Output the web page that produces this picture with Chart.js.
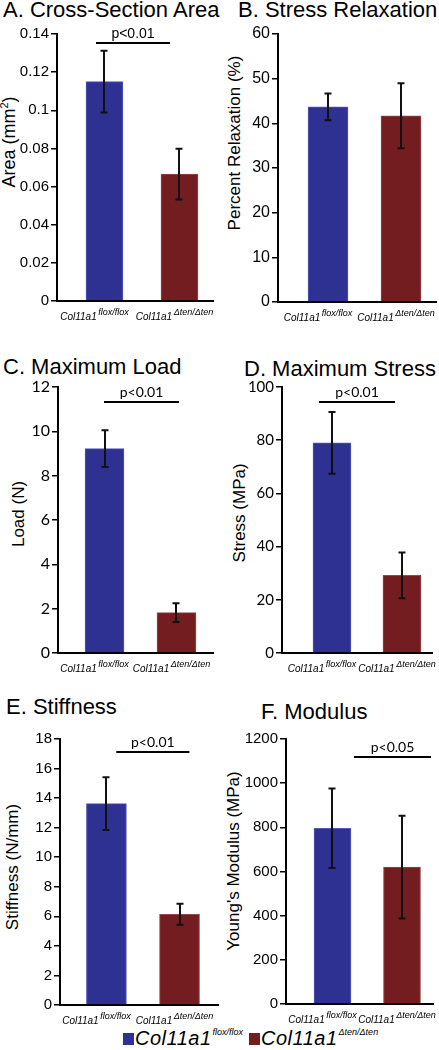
<!DOCTYPE html>
<html>
<head>
<meta charset="utf-8">
<script src="https://cdn.jsdelivr.net/npm/chart.js@4.4.0/dist/chart.umd.min.js"></script>
<style>
  html, body { margin: 0; padding: 0; background: #fff; }
  #page { position: relative; width: 439px; height: 1050px; overflow: hidden;
          font-family: "Liberation Sans", Arial, sans-serif; color: #000; }
  #page canvas { position: absolute; }
  .title { position: absolute; font-size: 22px; line-height: 1; white-space: nowrap; }
  .ytitle { position: absolute; font-size: 17px; line-height: 1; white-space: nowrap;
            transform: translate(-50%, -50%) rotate(-90deg); }
  .ytitle sup { font-size: 11px; line-height: 0; vertical-align: 7px; }
  .leg { position: absolute; line-height: 1; white-space: nowrap; font-style: italic; }
  .leg .sw { position: absolute; width: 11px; height: 12px; }
  .leg .main { font-size: 20px; letter-spacing: 0.5px; }
  .leg .sup { font-size: 9px; position: relative; top: -10px; margin-left: 1px; }
</style>
</head>
<body>
<div id="page">
  <div class="title" style="left:3px; top:-0.6px">A. Cross-Section Area</div>
  <div class="title" style="left:238px; top:-0.6px">B. Stress Relaxation</div>
  <div class="title" style="left:3px; top:356.4px">C. Maximum Load</div>
  <div class="title" style="left:244px; top:358.4px">D. Maximum Stress</div>
  <div class="title" style="left:6px; top:696.4px">E. Stiffness</div>
  <div class="title" style="left:261px; top:701.4px">F. Modulus</div>

  <div class="ytitle" style="left:9px; top:142px; font-size:18px">Area (mm<sup>2</sup>)</div>
  <div class="ytitle" style="left:234px; top:143px">Percent Relaxation (%)</div>
  <div class="ytitle" style="left:18px; top:514px">Load (N)</div>
  <div class="ytitle" style="left:239px; top:513px">Stress (MPa)</div>
  <div class="ytitle" style="left:12px; top:867px">Stiffness (N/mm)</div>
  <div class="ytitle" style="left:233px; top:861px">Young's Modulus (MPa)</div>

  <div class="leg" style="left:135px; top:1028px">
    <span class="sw" style="left:-12px; top:5px; background:#2e3192"></span><span class="main">Col11a1</span><span class="sup">flox/flox</span>
  </div>
  <div class="leg" style="left:261px; top:1028px">
    <span class="sw" style="left:-12px; top:5px; background:#731d20"></span><span class="main">Col11a1</span><span class="sup">Δten/Δten</span>
  </div>
</div>

<script>
// Genotypes (x categories): Col11a1 with superscript allele
const gene = 'Col11a1';
const genotypes = ['flox/flox', 'Δten/Δten'];

// A. Cross-section area (mm^2), mean and SD
const areaMean = [0.115, 0.0665];
const areaSd = [0.0162, 0.0133];
const areaTicks = [0, 0.02, 0.04, 0.06, 0.08, 0.1, 0.12, 0.14];

// B. Stress relaxation (%)
const relaxMean = [43.7, 41.7];
const relaxSd = [3.0, 7.3];
const relaxTicks = [0, 10, 20, 30, 40, 50, 60];

// C. Maximum load (N)
const loadMean = [9.22, 1.82];
const loadSd = [0.83, 0.42];
const loadTicks = [0, 2, 4, 6, 8, 10, 12];

// D. Maximum stress (MPa)
const stressMean = [79.0, 29.2];
const stressSd = [11.6, 8.6];
const stressTicks = [0, 20, 40, 60, 80, 100];

// E. Stiffness (N/mm)
const stiffMean = [13.63, 6.14];
const stiffSd = [1.78, 0.71];
const stiffTicks = [0, 2, 4, 6, 8, 10, 12, 14, 16, 18];

// F. Young's modulus (MPa)
const modMean = [796, 620];
const modSd = [180, 233];
const modTicks = [0, 200, 400, 600, 800, 1000, 1200];

// significance labels and the height (data units) of their bar
const pTexts = ['p<0.01', null, 'p<0.01', 'p<0.01', 'p<0.01', 'p<0.05'];
const pHeights = [0.1353, null, 11.32, 94.4, 17.12, 1118];

const BAR_FILL = ['#2e3192', '#731d20'];
const BAR_EDGE = ['#5559bb', '#97484b'];
const ARIAL = '"Liberation Sans", Arial, sans-serif';
const CALIBRI_LIKE = 'Lato, "Liberation Sans", sans-serif';
const LABEL_SHIFT = [-10, -5];

// per-panel placement: canvas box, plot area (page px), x range, bracket span (x units)
const panels = [
  { mean: areaMean, sd: areaSd, ticks: areaTicks, box: [0, 0, 219, 330], area: [57, 34, 213, 301],
    xRange: [-0.633, 1.447], bracket: [-0.113, 0.874], barW: 37, tickFont: ARIAL, tickSize: 15, pFont: ARIAL },
  { mean: relaxMean, sd: relaxSd, ticks: relaxTicks, box: [219, 0, 220, 330], area: [278, 34, 436, 302],
    xRange: [-0.685, 1.479], bracket: null, barW: 40, tickFont: ARIAL, tickSize: 16, pFont: ARIAL },
  { mean: loadMean, sd: loadSd, ticks: loadTicks, box: [0, 330, 219, 353], area: [58, 387, 213, 653],
    xRange: [-0.646, 1.507], bracket: [-0.007, 1.035], barW: 39, tickFont: CALIBRI_LIKE, tickSize: 16, pFont: CALIBRI_LIKE },
  { mean: stressMean, sd: stressSd, ticks: stressTicks, box: [219, 330, 220, 353], area: [282, 387, 432, 653],
    xRange: [-0.714, 1.429], bracket: [-0.185, 0.90], barW: 38, tickFont: CALIBRI_LIKE, tickSize: 15, pFont: CALIBRI_LIKE },
  { mean: stiffMean, sd: stiffSd, ticks: stiffTicks, box: [0, 683, 219, 367], area: [60, 739, 221, 1005],
    xRange: [-0.635, 1.54], bracket: [0.135, 1.135], barW: 40, tickFont: ARIAL, tickSize: 15, pFont: CALIBRI_LIKE },
  { mean: modMean, sd: modSd, ticks: modTicks, box: [219, 683, 220, 367], area: [286, 739, 433, 1004],
    xRange: [-0.669, 1.446], bracket: [0.309, 1.417], barW: 37, tickFont: ARIAL, tickSize: 15, pFont: CALIBRI_LIKE }
];

// error bars, significance bar and the italic genotype labels under each bar
function makeOverlay(p, idx) {
    return {
        id: 'overlay' + idx,
        afterDatasetsDraw(chart) {
            const { ctx, chartArea, scales: { x, y } } = chart;
            ctx.save();
            ctx.strokeStyle = '#111';
            ctx.lineWidth = 2;
            p.mean.forEach((m, i) => {
                const cx = Math.round(x.getPixelForValue(i));
                const top = y.getPixelForValue(m + p.sd[i]);
                const bot = y.getPixelForValue(m - p.sd[i]);
                ctx.beginPath();
                ctx.moveTo(cx, top); ctx.lineTo(cx, bot);
                ctx.moveTo(cx - 3.5, top); ctx.lineTo(cx + 3.5, top);
                ctx.moveTo(cx - 3.5, bot); ctx.lineTo(cx + 3.5, bot);
                ctx.stroke();
            });

            const pText = pTexts[idx];
            if (pText) {
                const yy = Math.round(y.getPixelForValue(pHeights[idx]));
                const x1 = x.getPixelForValue(p.bracket[0]);
                const x2 = x.getPixelForValue(p.bracket[1]);
                ctx.strokeStyle = '#000';
                ctx.beginPath();
                ctx.moveTo(x1, yy); ctx.lineTo(x2, yy);
                ctx.stroke();
                ctx.fillStyle = '#000';
                ctx.font = '14px ' + p.pFont;
                ctx.textAlign = 'center';
                ctx.textBaseline = 'alphabetic';
                ctx.fillText(pText, (x1 + x2) / 2, yy - 5);
            }

            ctx.fillStyle = '#000';
            ctx.textAlign = 'left';
            ctx.textBaseline = 'alphabetic';
            const base = chartArea.bottom + 19;
            genotypes.forEach((g, i) => {
                ctx.font = 'italic 10px ' + ARIAL;
                const w1 = ctx.measureText(gene).width;
                ctx.font = 'italic 9px ' + ARIAL;
                const w2 = ctx.measureText(g).width;
                const start = x.getPixelForValue(i) + LABEL_SHIFT[i] - (w1 + 1.5 + w2) / 2;
                ctx.font = 'italic 10px ' + ARIAL;
                ctx.fillText(gene, start, base);
                ctx.font = 'italic 9px ' + ARIAL;
                ctx.fillText(g, start + w1 + 1.5, base - 5);
            });
            ctx.restore();
        }
    };
}

const page = document.getElementById('page');

panels.forEach((p, idx) => {
    const [bl, bt, bw, bh] = p.box;
    const [al, at, ar, ab] = p.area;
    const canvas = document.createElement('canvas');
    canvas.width = bw;
    canvas.height = bh;
    canvas.style.left = bl + 'px';
    canvas.style.top = bt + 'px';
    canvas.style.width = bw + 'px';
    canvas.style.height = bh + 'px';
    page.appendChild(canvas);

    const yMax = p.ticks[p.ticks.length - 1];

    new Chart(canvas, {
        type: 'bar',
        data: {
            datasets: [{
                data: p.mean.map((v, i) => ({ x: i, y: v })),
                backgroundColor: BAR_FILL,
                borderColor: BAR_EDGE,
                borderWidth: 1,
                barThickness: p.barW
            }]
        },
        options: {
            responsive: false,
            animation: false,
            events: [],
            layout: { padding: { top: at - bt, left: 0, right: bl + bw - ar, bottom: bt + bh - ab } },
            plugins: { legend: { display: false }, tooltip: { enabled: false } },
            scales: {
                x: {
                    type: 'linear',
                    min: p.xRange[0],
                    max: p.xRange[1],
                    offset: false,
                    afterFit: s => { s.height = 0; },
                    grid: { display: true, drawOnChartArea: false, drawTicks: false },
                    ticks: { display: false },
                    border: { display: true, color: '#000', width: 2 }
                },
                y: {
                    min: 0,
                    max: yMax,
                    afterBuildTicks: s => { s.ticks = p.ticks.map(v => ({ value: v })); },
                    afterFit: s => { s.width = al - bl; },
                    grid: { display: true, drawOnChartArea: false, drawTicks: true, tickLength: 6, color: '#000', lineWidth: 1.5 },
                    border: { display: true, color: '#000', width: 2 },
                    ticks: { color: '#000', padding: 2, font: { family: p.tickFont, size: p.tickSize }, callback: v => String(v) }
                }
            }
        },
        plugins: [makeOverlay(p, idx)]
    });
});
</script>
</body>
</html>
